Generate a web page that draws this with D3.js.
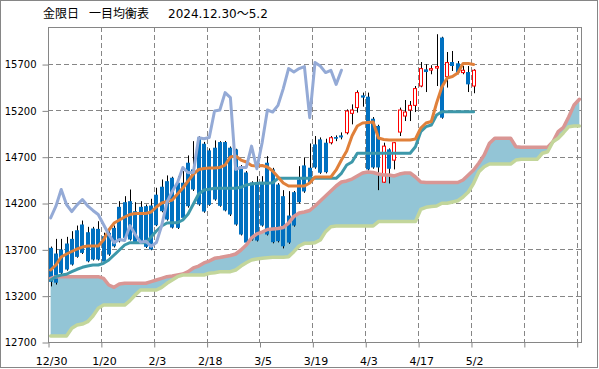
<!DOCTYPE html>
<html>
<head>
<meta charset="utf-8">
<script src="https://cdn.jsdelivr.net/npm/d3@7"></script>
<style>
body { margin: 0; background: #fff; }
text { font-family: "DejaVu Sans", "Noto Sans CJK JP", sans-serif; fill: #000; }
</style>
</head>
<body>
<script>
// tick labels (every 10 trading days) and price grid
var tickDays = ["12/30", "1/20", "2/3", "2/18", "3/5", "3/19", "4/3", "4/17", "5/2"];
var yTicks = [12700, 13200, 13700, 14200, 14700, 15200, 15700];
var nSlots = 101; // 81 trading days + cloud drawn ahead

// daily candles 12/30 .. 5/2
var openP = [13716,13655,13698,13763,13813,13906,13968,13885,13925,13921,
  13842,13878,13932,14159,14209,14220,14112,14159,14166,14173,
  14290,14376,14436,14473,14419,14419,14635,14563,14905,14840,
  14768,14797,14858,14858,14797,14779,14595,14530,14422,14422,
  14425,14635,14563,14400,14274,14065,14317,14454,14606,14581,
  14833,14887,14851,14851,14912,14930,14959,15168,15230,15362,
  15348,15110,15032,14425,14779,14663,14966,15139,15204,15254,
  15463,15643,15636,15658,15986,15564,15722,15708,15608,15614,
  15463];
var highP = [13730,13813,13813,13835,13896,13957,14011,13943,13943,14004,
  13880,13900,13957,14220,14274,14346,14209,14220,14184,14246,
  14365,14454,14498,14484,14490,14544,14714,14868,14920,14860,
  14790,14876,14868,14870,14810,14786,14610,14545,14435,14490,
  14490,14706,14580,14415,14339,14328,14330,14598,14689,14843,
  14923,14908,14894,14923,14930,14962,15211,15265,15416,15392,
  15392,15128,15045,14851,14790,14858,15230,15312,15301,15463,
  15722,15698,15687,16022,15995,15830,15841,15733,15679,15679,
  15644];
var lowP = [13300,13320,13410,13470,13525,13610,13650,13560,13580,13580,
  13555,13630,13720,13775,13810,13795,13760,13775,13715,13690,
  13950,14100,14010,13925,13920,14030,14150,14330,14170,14095,
  14170,14225,14160,14110,14060,13955,13850,13760,13795,13785,
  13945,13850,13765,13775,13710,13760,13945,14195,14310,14410,
  14570,14515,14520,14833,14868,14887,14941,15049,15176,15240,
  14550,14570,14339,14419,14411,14563,14923,15085,15085,15182,
  15450,15398,15590,15463,15110,15446,15625,15590,15590,15398,
  15385];
var closeP = [13350,13340,13446,13482,13536,13619,13662,13571,13590,13590,
  13568,13644,13733,13788,13824,13806,13770,13788,13727,13698,
  13960,14112,14022,13935,13932,14040,14166,14346,14184,14108,
  14180,14238,14170,14120,14076,13968,13860,13773,13806,13795,
  13957,13860,13777,13788,13733,13773,13957,14209,14325,14422,
  14584,14527,14533,14905,14894,14908,15193,15204,15392,15338,
  14563,14584,14584,14814,14570,14851,15204,15182,15254,15435,
  15651,15614,15651,15673,15121,15716,15679,15608,15633,15481,
  15633];

// 転換線
var tenkan = [13477,13531,13617,13650,13677,13704,13725,13736,13736,13736,
  13801,13909,13984,14017,14049,14076,14087,14087,14087,14103,
  14157,14200,14217,14233,14298,14362,14438,14513,14562,14573,
  14578,14578,14584,14610,14697,14708,14664,14643,14605,14600,
  14605,14589,14546,14481,14416,14384,14384,14384,14384,14416,
  14481,14481,14481,14481,14557,14664,14762,14924,15032,15064,
  15069,15075,14902,14886,14880,14880,14880,14880,14880,14891,
  15010,15064,15080,15280,15452,15550,15566,15604,15706,15706,
  15695];
// 基準線
var kijun = [13369,13405,13423,13431,13459,13485,13506,13520,13531,13531,
  13549,13585,13639,13693,13747,13772,13772,13772,13772,13833,
  13898,13952,13984,13988,13988,14017,14082,14190,14298,14341,
  14348,14359,14359,14359,14359,14359,14370,14395,14405,14413,
  14416,14413,14419,14467,14467,14467,14467,14467,14467,14467,
  14467,14467,14467,14467,14467,14521,14610,14643,14737,14737,
  14737,14737,14737,14737,14737,14737,14737,14737,14737,14808,
  14970,15024,15042,15150,15186,15186,15186,15186,15186,15186,
  15186];
// 遅行スパン (plotted 25 days back)
var chikou = [14040,14166,14346,14184,14108,14180,14238,14170,14120,14076,
  13968,13860,13773,13806,13795,13957,13860,13777,13788,13733,
  13773,13957,14209,14325,14422,14584,14527,14533,14905,14894,
  14908,15193,15204,15392,15338,14563,14584,14584,14814,14570,
  14851,15204,15182,15254,15435,15651,15614,15651,15673,15121,
  15716,15679,15608,15633,15481,15633];
// 先行スパン1 / 2
var spanA = [13387,13405,13405,13405,13405,13405,13405,13405,13405,13405,
  13387,13315,13290,13326,13334,13334,13334,13334,13334,13351,
  13369,13387,13405,13412,13423,13434,13459,13499,13520,13553,
  13574,13603,13612,13623,13634,13650,13693,13747,13823,13866,
  13887,13914,13920,13925,13936,13984,14055,14092,14103,14119,
  14168,14222,14276,14330,14384,14427,14438,14459,14492,14524,
  14535,14530,14513,14503,14503,14492,14513,14524,14524,14481,
  14427,14422,14422,14422,14422,14422,14422,14422,14449,14503,
  14557,14632,14718,14845,14899,14899,14899,14899,14808,14802,
  14802,14802,14802,14802,14802,14862,14970,15017,15132,15258,
  15320];
var spanB = [12765,12765,12765,12765,12848,12883,12894,12919,12981,13064,
  13099,13099,13099,13099,13099,13146,13207,13261,13261,13261,
  13261,13290,13334,13369,13405,13423,13423,13423,13423,13423,
  13442,13448,13459,13459,13459,13477,13520,13556,13585,13596,
  13603,13610,13614,13614,13614,13621,13675,13736,13765,13765,
  13772,13801,13891,13945,13952,13952,13952,13952,13952,13952,
  13952,13952,14000,14000,14000,14000,14000,14000,14000,14000,
  14132,14154,14163,14168,14197,14197,14211,14225,14265,14319,
  14413,14538,14592,14621,14621,14621,14621,14621,14664,14672,
  14672,14672,14672,14737,14754,14862,14899,14959,15024,15031,
  15031];

var w = 599, h = 369;
var padL = 48, padT = 27, padR = 582, padB = 342;
var gridColor = "#868686";

var svg = d3.select("body").append("svg").attr("width", w).attr("height", h);

// outer frame
svg.append("rect")
  .attr("x", 0.5).attr("y", 0.5).attr("width", 597).attr("height", 367)
  .attr("fill", "#fff").attr("stroke", gridColor);

var xScale = d3.scaleBand().domain(d3.range(nSlots)).range([padL, padR]);
var xEdge = d3.scaleLinear().domain([0, nSlots]).range([padL, padR]);
var yScale = d3.scaleLinear().domain([12700, 16100]).range([padB, padT]);
var bw = xScale.bandwidth();
function cx(i) { return xScale(i) + bw / 2; }

// grid
svg.append("g").selectAll("line")
  .data(yTicks.slice(1))
  .enter().append("line")
  .attr("x1", padL).attr("x2", padR)
  .attr("y1", function(d) { return Math.round(yScale(d)) + 0.5; })
  .attr("y2", function(d) { return Math.round(yScale(d)) + 0.5; })
  .attr("stroke", gridColor).attr("stroke-dasharray", "5,3");

svg.append("g").selectAll("line")
  .data(d3.range(10, nSlots, 10))
  .enter().append("line")
  .attr("x1", function(d) { return Math.round(xEdge(d)) + 0.5; })
  .attr("x2", function(d) { return Math.round(xEdge(d)) + 0.5; })
  .attr("y1", padT).attr("y2", padB)
  .attr("stroke", gridColor).attr("stroke-dasharray", "5,3");

// cloud
var cloud = d3.area()
  .x(function(d, i) { return cx(i); })
  .y0(function(d, i) { return yScale(spanB[i]); })
  .y1(function(d) { return yScale(d); });

svg.append("path")
  .datum(spanA)
  .attr("d", cloud)
  .attr("fill", "#93c5d6");

// candles
var candles = svg.append("g");
candles.selectAll("line")
  .data(openP)
  .enter().append("line")
  .attr("x1", function(d, i) { return Math.round(cx(i)) + 0.5; })
  .attr("x2", function(d, i) { return Math.round(cx(i)) + 0.5; })
  .attr("y1", function(d, i) { return yScale(highP[i]); })
  .attr("y2", function(d, i) { return yScale(lowP[i]); })
  .attr("stroke", "#000").attr("stroke-width", 1);

candles.selectAll("rect")
  .data(openP)
  .enter().append("rect")
  .attr("x", function(d, i) {
    return closeP[i] >= d ? Math.round(cx(i)) - 1.5 : Math.round(cx(i)) - 2;
  })
  .attr("width", function(d, i) { return closeP[i] >= d ? 3 : 4; })
  .attr("y", function(d, i) { return yScale(Math.max(d, closeP[i])); })
  .attr("height", function(d, i) {
    return Math.max(1.5, Math.abs(yScale(d) - yScale(closeP[i])));
  })
  .attr("fill", function(d, i) { return closeP[i] >= d ? "#fff" : "#0070c0"; })
  .attr("stroke", function(d, i) { return closeP[i] >= d ? "#ff0000" : "none"; })
  .attr("stroke-width", 1);

// lines
function drawLine(values, color, width) {
  var line = d3.line()
    .x(function(d, i) { return cx(i); })
    .y(function(d) { return yScale(d); });
  svg.append("path")
    .datum(values)
    .attr("d", line)
    .attr("fill", "none")
    .attr("stroke", color)
    .attr("stroke-width", width)
    .attr("stroke-linejoin", "round")
    .attr("stroke-linecap", "round");
}

drawLine(spanA, "#d99694", 3.5);
drawLine(spanB, "#c3d69b", 3.5);
drawLine(kijun, "#3d98aa", 3);
drawLine(tenkan, "#e0803a", 3);
drawLine(chikou, "#94aad6", 3);

// plot frame
svg.append("rect")
  .attr("x", padL + 0.5).attr("y", padT + 0.5)
  .attr("width", padR - padL - 1).attr("height", padB - padT)
  .attr("fill", "none").attr("stroke", gridColor);

// Y axis
var yAxis = d3.axisLeft(yScale).tickValues(yTicks).tickSize(6).tickFormat(d3.format("d"));
var gy = svg.append("g")
  .attr("transform", "translate(" + (padL + 0.5) + ",0.5)")
  .call(yAxis);
gy.select(".domain").remove();
gy.selectAll("line").attr("stroke", gridColor);
gy.selectAll("text").attr("x", -12).style("font-size", "10px");

// X axis
var xAxis = d3.axisBottom(xEdge).tickValues(d3.range(0, nSlots, 10)).tickSize(5)
  .tickFormat(function(d) { return tickDays[d / 10] || ""; });
var gx = svg.append("g")
  .attr("transform", "translate(0.5," + (padB + 0.5) + ")")
  .call(xAxis);
gx.select(".domain").remove();
gx.selectAll("line").attr("stroke", gridColor);
gx.selectAll("text").attr("dx", bw / 2).attr("y", 15).style("font-size", "11px");

// title
var title = svg.append("g").style("font-size", "12px");
title.append("text").attr("x", 43).attr("y", 18).text("金限日");
title.append("text").attr("x", 89).attr("y", 18).text("一目均衡表");
title.append("text").attr("x", 168).attr("y", 18).text("2024.12.30～5.2");
</script>
</body>
</html>
